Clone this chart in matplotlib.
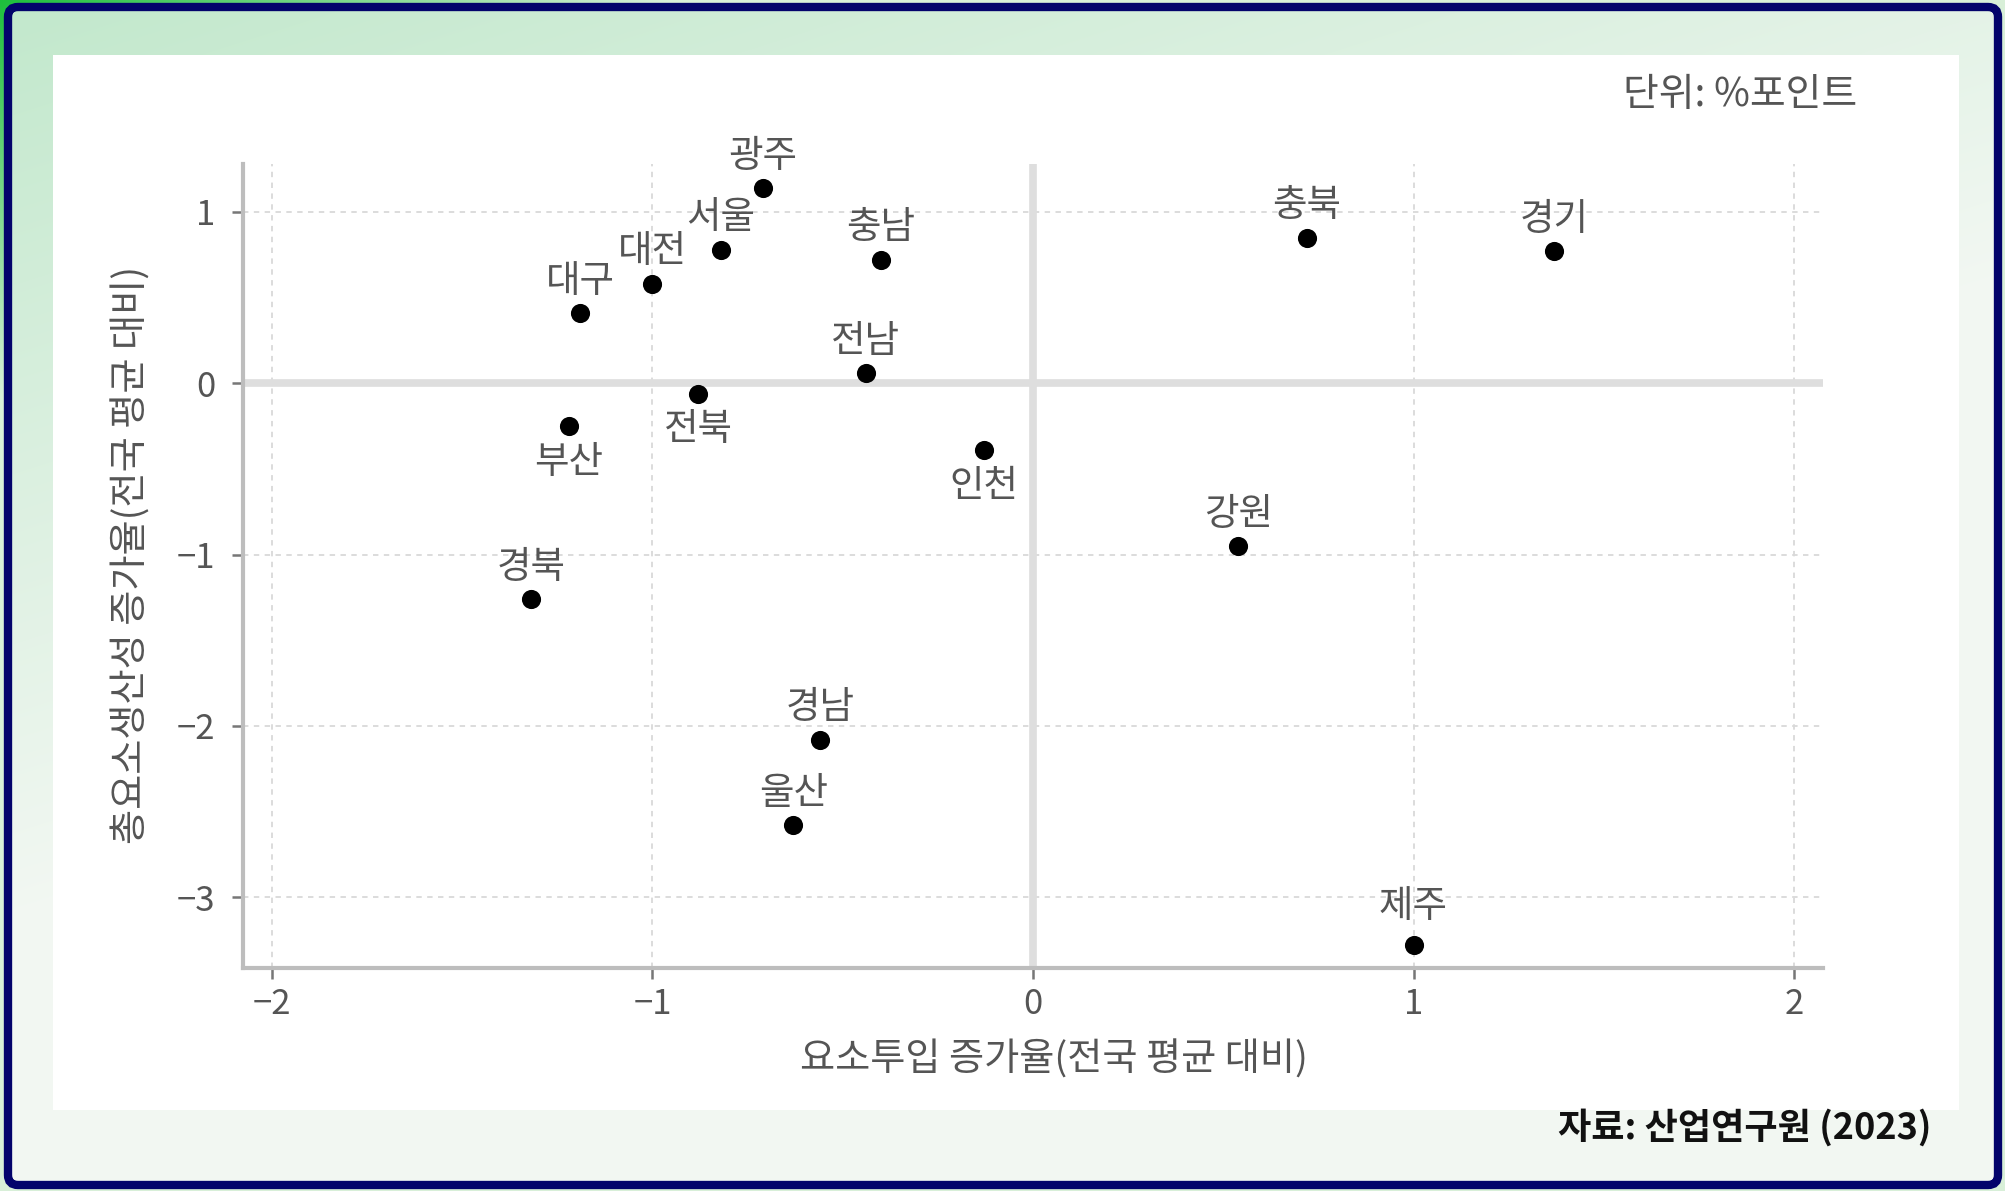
import numpy as np
import matplotlib
matplotlib.use("Agg")
import matplotlib.pyplot as plt
from matplotlib.patches import FancyBboxPatch, Rectangle

plt.rcParams['font.family'] = ['Noto Sans CJK KR', 'DejaVu Sans']

# 지역별 값 (전국 평균 대비, %포인트)
regions = ['광주', '서울', '대전', '대구', '충남', '전남', '전북', '부산',
           '인천', '경북', '경남', '울산', '충북', '경기', '강원', '제주']
input_growth = [-0.71, -0.82, -1.00, -1.19, -0.40, -0.44, -0.88, -1.22,
                -0.13, -1.32, -0.56, -0.63, 0.72, 1.37, 0.54, 1.00]
tfp_growth = [1.14, 0.78, 0.58, 0.41, 0.72, 0.06, -0.06, -0.25,
              -0.39, -1.26, -2.08, -2.58, 0.85, 0.77, -0.95, -3.28]
below = ['전북', '부산', '인천']

x_ticks = [-2, -1, 0, 1, 2]
y_ticks = [-3, -2, -1, 0, 1]

W, H = 2006, 1191
fig = plt.figure(figsize=(W / 100, H / 100), dpi=100)

# 배경 (그라데이션 + 테두리 + 흰 패널)
bg = fig.add_axes([0, 0, 1, 1], zorder=-10)
bg.set_xlim(0, W)
bg.set_ylim(H, 0)
bg.axis('off')
yy, xx = np.mgrid[0:H:4, 0:W:4]
t_out = np.clip((xx / W + yy / H) * 3.0, 0, 1)[..., None]
c0 = np.array([0.12, 0.75, 0.24])
c1 = np.array([0.85, 0.94, 0.85])
outer = c0 * (1 - t_out) + c1 * t_out
bg.imshow(outer, extent=[0, W, H, 0], aspect='auto', interpolation='bilinear')

t_in = np.clip(0.7 * xx / W + 1.3 * yy / H, 0, 1)[..., None]
g0 = np.array([0.76, 0.91, 0.80])
g1 = np.array([0.95, 0.97, 0.95])
inner = g0 * (1 - t_in) + g1 * t_in
frame = FancyBboxPatch((8, 7), W - 16, H - 13, boxstyle="round,pad=0,rounding_size=10",
                       facecolor='none', edgecolor='#03036b', linewidth=6, zorder=3)
bg.add_patch(frame)
im = bg.imshow(inner, extent=[0, W, H, 0], aspect='auto', interpolation='bilinear', zorder=2)
im.set_clip_path(frame)
bg.add_patch(Rectangle((53, 55), 1906, 1055, facecolor='white', edgecolor='none', zorder=4))

bg.text(1857, 95, '단위: %포인트', fontsize=28, color='#555555', ha='right', va='center', zorder=5)
bg.text(1932, 1128, '자료: 산업연구원 (2023)', fontsize=26, fontweight='bold',
        color='#111111', ha='right', va='center', zorder=5)

# 산점도
ax = fig.add_axes([243 / W, 1 - 968 / H, 1580 / W, 804 / H])
ax.set_facecolor('white')
ax.set_xlim(-2.076, 2.076)
ax.set_ylim(-3.414, 1.28)

for v in x_ticks:
    if v != 0:
        ax.axvline(v, color='#d9d9d9', lw=1.3, ls=(0, (3, 3)), zorder=1)
for v in y_ticks:
    if v != 0:
        ax.axhline(v, color='#d9d9d9', lw=1.3, ls=(0, (3, 3)), zorder=1)
ax.axhline(0, color='#dedede', lw=5.5, zorder=1)
ax.axvline(0, color='#dedede', lw=5.5, zorder=1)

ax.scatter(input_growth, tfp_growth, s=190, color='black', zorder=3, linewidths=0)
for name, x, y in zip(regions, input_growth, tfp_growth):
    dy = -26 if name in below else 23
    if name == '제주':
        dy = 28
    ax.annotate(name, (x, y), xytext=(0, dy), textcoords='offset points',
                ha='center', va='center', fontsize=27, color='#555555', zorder=4)

for side in ['top', 'right']:
    ax.spines[side].set_visible(False)
for side in ['left', 'bottom']:
    ax.spines[side].set_color('#bdbdbd')
    ax.spines[side].set_linewidth(3)

ax.set_xticks(x_ticks)
ax.set_yticks(y_ticks)
ax.tick_params(axis='both', direction='out', length=8, width=1.8, color='#777777',
               labelcolor='#555555', labelsize=25)
ax.tick_params(axis='y', pad=12)
ax.tick_params(axis='x', pad=6)

ax.set_xlabel('요소투입 증가율(전국 평균 대비)', fontsize=27.5, color='#555555')
ax.xaxis.set_label_coords(0.513, -0.09)
ax.set_ylabel('총요소생산성 증가율(전국 평균 대비)', fontsize=27.5, color='#555555')
ax.yaxis.set_label_coords(-0.058, 0.514)

fig.savefig('out.png', dpi=100)
